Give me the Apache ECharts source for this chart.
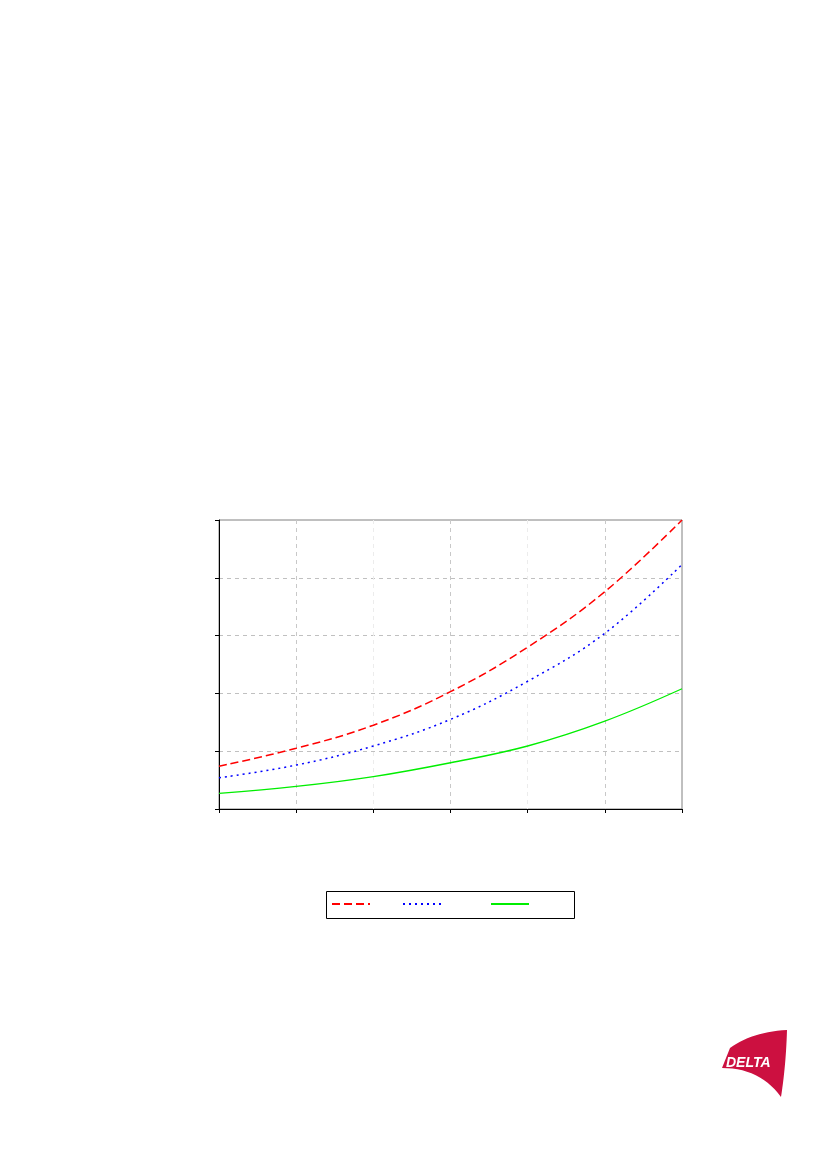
<!DOCTYPE html>
<html>
<head>
<meta charset="utf-8">
<script src="https://cdn.jsdelivr.net/npm/echarts@6/dist/echarts.min.js"></script>
<style>
html,body{margin:0;padding:0;background:#fff;}
#chart{width:826px;height:1169px;}
</style>
</head>
<body>
<div id="chart"></div>
<script>
const xValues = [0, 1, 2, 3, 4, 5, 6];
const redValues = [0.74, 1.05, 1.45, 2.03, 2.80, 3.76, 5.0];
const blueValues = [0.54, 0.76, 1.09, 1.55, 2.21, 3.04, 4.23];
const greenValues = [0.27, 0.39, 0.56, 0.80, 1.09, 1.52, 2.08];
const seriesNames = ['A', 'B', 'C'];

const pair = arr => xValues.map((x, i) => [x, arr[i]]);

// logo outline built from quadratic curves
function quad(p0, c, p1, n) {
  const pts = [];
  for (let i = 0; i <= n; i++) {
    const t = i / n, u = 1 - t;
    pts.push([u*u*p0[0] + 2*u*t*c[0] + t*t*p1[0], u*u*p0[1] + 2*u*t*c[1] + t*t*p1[1]]);
  }
  return pts;
}
const logoPts = [].concat(
  quad([730, 1048], [752, 1032], [787, 1030], 14),
  quad([787, 1030], [786, 1065], [781, 1097], 14).slice(1),
  quad([781, 1097], [760, 1068], [722, 1068], 14).slice(1)
);

const chart = echarts.init(document.getElementById('chart'));
const legendBase = {
  orient: 'horizontal', top: 897, itemWidth: 38, itemHeight: 14,
  formatter: () => '', textStyle: {fontSize: 1}, padding: 0, itemGap: 0,
  selectedMode: false, itemStyle: {opacity: 0}
};
chart.setOption({
  animation: false,
  backgroundColor: '#fff',
  grid: {left: 219, top: 520, width: 463, height: 289, show: true,
    borderColor: '#808080', borderWidth: 1, backgroundColor: 'transparent'},
  xAxis: {
    type: 'value', min: 0, max: 6, interval: 1,
    axisLine: {lineStyle: {color: '#000', width: 1}},
    axisTick: {show: true, length: 4, lineStyle: {color: '#000'}},
    axisLabel: {show: false},
    splitLine: {show: true, showMinLine: false, showMaxLine: false,
      lineStyle: {type: [4, 4], color: ['#c8c8c8', '#ececec'], width: 1}}
  },
  yAxis: {
    type: 'value', min: 0, max: 5, interval: 1,
    axisLine: {show: true, lineStyle: {color: '#000', width: 1}},
    axisTick: {show: true, length: 4, lineStyle: {color: '#000'}},
    axisLabel: {show: false},
    splitLine: {show: true, showMinLine: false, showMaxLine: false,
      lineStyle: {type: [4, 4], color: '#c0c0c0', width: 1}}
  },
  legend: [
    Object.assign({}, legendBase, {left: 331, data: [seriesNames[0]]}),
    Object.assign({}, legendBase, {left: 402, data: [seriesNames[1]]}),
    Object.assign({}, legendBase, {left: 490, data: [seriesNames[2]]})
  ],
  series: [
    {name: seriesNames[0], type: 'line', data: pair(redValues), smooth: 0.4, symbol: 'none',
      lineStyle: {color: '#ff0000', width: 1.5, type: [8, 4]}, itemStyle: {color: '#ff0000'}},
    {name: seriesNames[1], type: 'line', data: pair(blueValues), smooth: 0.4, symbol: 'none',
      lineStyle: {color: '#0000ff', width: 1.5, type: [2, 4]}, itemStyle: {color: '#0000ff'}},
    {name: seriesNames[2], type: 'line', data: pair(greenValues), smooth: 0.4, symbol: 'none',
      lineStyle: {color: '#00ee00', width: 1.3}, itemStyle: {color: '#00ee00'}}
  ],
  graphic: [
    {type: 'rect', shape: {x: 326.5, y: 891.5, width: 248, height: 27},
      style: {fill: 'none', stroke: '#000', lineWidth: 1}, silent: true},
    {type: 'polygon', shape: {points: logoPts},
      style: {fill: '#cc1040'}, silent: true},
    {type: 'text', left: 726, top: 1056,
      style: {text: 'DELTA', fill: '#fff', font: 'italic bold 14px "Liberation Sans", Arial, sans-serif'}, silent: true}
  ]
});
</script>
</body>
</html>
